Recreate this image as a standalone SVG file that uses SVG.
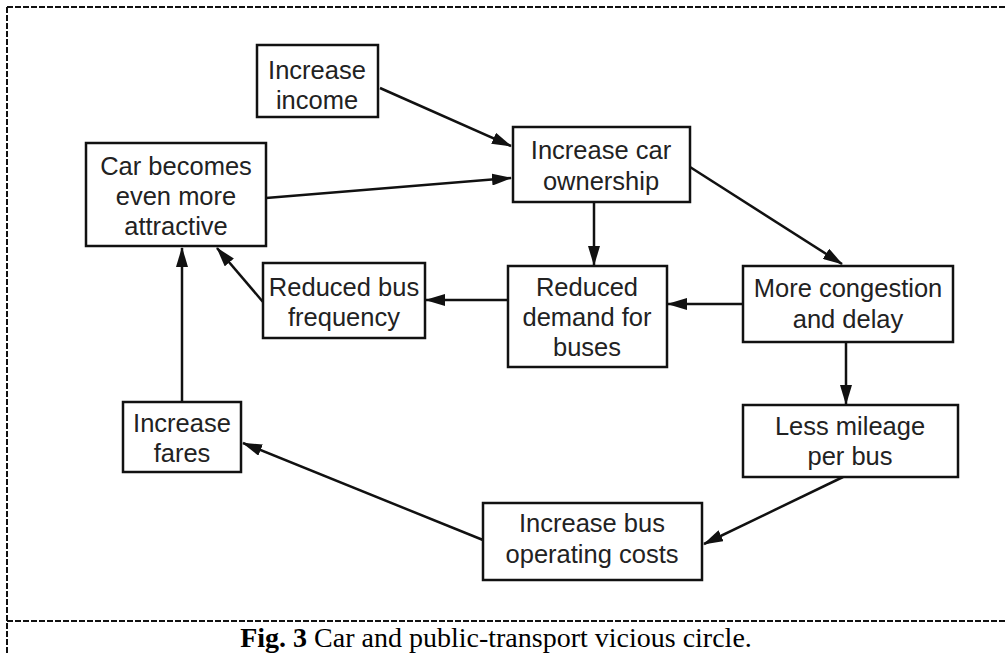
<svg xmlns="http://www.w3.org/2000/svg" width="1006" height="653" viewBox="0 0 1006 653">
<defs>
<marker id="ah" viewBox="0 0 20 12" refX="19" refY="6" markerWidth="20" markerHeight="12" markerUnits="userSpaceOnUse" orient="auto">
<path d="M0,0 L20,6 L0,12 Z" fill="#111"/>
</marker>
<style>
.box{fill:#fff;stroke:#111;stroke-width:2.5}
.t{font-family:"Liberation Sans",Arial,sans-serif;font-size:25.5px;fill:#222;text-anchor:middle}
.c{stroke:#111;stroke-width:2.5;fill:none;marker-end:url(#ah)}
.frame{stroke:#111;stroke-width:2;stroke-dasharray:6 2;fill:none}
.cap{font-family:"Liberation Serif","Times New Roman",serif;font-size:28px;fill:#000;text-anchor:middle}
</style>
</defs>
<rect width="1006" height="653" fill="#fff"/>
<g id="frame">
<path class="frame" d="M7,7 H1006 M7,7 V653 M7,621 H1006"/>
</g>
<g id="connectors">
<line class="c" x1="380" y1="88" x2="511" y2="146"/>
<line class="c" x1="266" y1="198" x2="511" y2="178"/>
<line class="c" x1="594" y1="202" x2="594" y2="265"/>
<line class="c" x1="690" y1="167" x2="842" y2="264"/>
<line class="c" x1="743" y1="304" x2="668" y2="304"/>
<line class="c" x1="508" y1="300" x2="426" y2="300"/>
<line class="c" x1="263" y1="302" x2="217" y2="248"/>
<line class="c" x1="182" y1="402" x2="182" y2="248"/>
<line class="c" x1="846" y1="342" x2="846" y2="404"/>
<line class="c" x1="843" y1="477" x2="704" y2="544"/>
<line class="c" x1="483" y1="540" x2="243" y2="443"/>
</g>
<g id="increase-income">
<rect class="box" x="257" y="45" width="121" height="72"/>
<text class="t" x="317" y="79">Increase</text>
<text class="t" x="317" y="109">income</text>
</g>
<g id="increase-car-ownership">
<rect class="box" x="513" y="127" width="177" height="75"/>
<text class="t" x="601" y="159">Increase car</text>
<text class="t" x="601" y="190">ownership</text>
</g>
<g id="car-attractive">
<rect class="box" x="86" y="143" width="180" height="103"/>
<text class="t" x="176" y="175">Car becomes</text>
<text class="t" x="176" y="205">even more</text>
<text class="t" x="176" y="235">attractive</text>
</g>
<g id="reduced-bus-frequency">
<rect class="box" x="263" y="263" width="162" height="75"/>
<text class="t" x="344" y="296">Reduced bus</text>
<text class="t" x="344" y="326">frequency</text>
</g>
<g id="reduced-demand">
<rect class="box" x="508" y="266" width="159" height="101"/>
<text class="t" x="587" y="296">Reduced</text>
<text class="t" x="587" y="326">demand for</text>
<text class="t" x="587" y="356">buses</text>
</g>
<g id="more-congestion">
<rect class="box" x="743" y="266" width="210" height="76"/>
<text class="t" x="848" y="297">More congestion</text>
<text class="t" x="848" y="328">and delay</text>
</g>
<g id="less-mileage">
<rect class="box" x="743" y="405" width="215" height="72"/>
<text class="t" x="850" y="435">Less mileage</text>
<text class="t" x="850" y="465">per bus</text>
</g>
<g id="increase-fares">
<rect class="box" x="123" y="402" width="118" height="70"/>
<text class="t" x="182" y="432">Increase</text>
<text class="t" x="182" y="462">fares</text>
</g>
<g id="bus-operating-costs">
<rect class="box" x="483" y="503" width="219" height="77"/>
<text class="t" x="592" y="532">Increase bus</text>
<text class="t" x="592" y="563">operating costs</text>
</g>
<g id="caption">
<text class="cap" x="496" y="647"><tspan font-weight="bold">Fig. 3</tspan> Car and public-transport vicious circle.</text>
</g>
</svg>
